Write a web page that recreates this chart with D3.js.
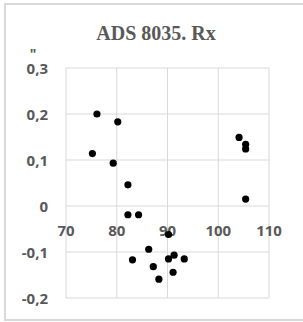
<!DOCTYPE html>
<html>
<head>
<meta charset="utf-8">
<script src="https://cdn.jsdelivr.net/npm/d3@7"></script>
<style>
  body { margin: 0; background: #fff; }
  svg { display: block; }
</style>
</head>
<body>
<svg id="chart" width="303" height="322"></svg>
<script>
/* ---------------------------------------------------
   Data
--------------------------------------------------- */

const title = "ADS 8035. Rx";
const xValues = [76.1, 80.2, 75.2, 79.3, 82.2, 104.1, 105.4, 105.4, 105.4,
                 82.2, 84.3, 90.2, 86.3, 83.1, 87.2, 88.3, 90.2, 91.3, 93.3, 91.1];
const yValues = [0.2, 0.183, 0.114, 0.093, 0.046, 0.149, 0.134, 0.124, 0.015,
                 -0.019, -0.019, -0.062, -0.094, -0.117, -0.132, -0.159, -0.115, -0.107, -0.115, -0.144];
const xTicks = [70, 80, 90, 100, 110];
const yTicks = [0.3, 0.2, 0.1, 0, -0.1, -0.2];
const yUnit = "\"";

/* ---------------------------------------------------
   Setup
--------------------------------------------------- */

const svg = d3.select("#chart");
const grey = "#595959";
const gridColour = "#d9d9d9";
const labelFont = "Open Sans, sans-serif";

const x = d3.scaleLinear().domain([70, 110]).range([66, 269]);
const y = d3.scaleLinear().domain([-0.2, 0.3]).range([298, 68]);

const fmt = d => d === 0 ? "0" : d3.format(".1f")(d).replace(".", ",").replace("−", "-");

// outer frame (right side runs off the picture)
svg.append("rect")
  .attr("x", 5).attr("y", 4)
  .attr("width", 310).attr("height", 316)
  .attr("fill", "#fff")
  .attr("stroke", gridColour)
  .attr("stroke-width", 2);

// title
svg.append("text")
  .attr("x", 156).attr("y", 40)
  .attr("text-anchor", "middle")
  .attr("font-family", "Liberation Serif, serif")
  .attr("font-weight", "bold")
  .attr("font-size", 20)
  .attr("fill", grey)
  .text(title);

// grid
svg.append("g")
  .selectAll("line")
  .data(xTicks)
  .join("line")
  .attr("x1", d => x(d)).attr("x2", d => x(d))
  .attr("y1", y(0.3)).attr("y2", y(-0.2))
  .attr("stroke", gridColour);

svg.append("g")
  .selectAll("line")
  .data(yTicks)
  .join("line")
  .attr("x1", x(70)).attr("x2", x(110))
  .attr("y1", d => y(d)).attr("y2", d => y(d))
  .attr("stroke", gridColour);

// y labels
svg.append("g")
  .selectAll("text")
  .data(yTicks)
  .join("text")
  .attr("x", 48)
  .attr("y", d => y(d) + 5.5)
  .attr("text-anchor", "end")
  .attr("font-family", labelFont)
  .attr("font-weight", "bold")
  .attr("font-size", 15)
  .attr("fill", grey)
  .text(fmt);

svg.append("text")
  .attr("x", 33).attr("y", 59)
  .attr("text-anchor", "middle")
  .attr("font-family", labelFont)
  .attr("font-weight", "bold")
  .attr("font-size", 14)
  .attr("fill", grey)
  .text(yUnit);

// x labels (axis crosses at 0)
svg.append("g")
  .selectAll("text")
  .data(xTicks)
  .join("text")
  .attr("x", d => x(d))
  .attr("y", y(0) + 30)
  .attr("text-anchor", "middle")
  .attr("font-family", labelFont)
  .attr("font-weight", "bold")
  .attr("font-size", 15)
  .attr("fill", grey)
  .text(d => d);

// points
svg.append("g")
  .selectAll("circle")
  .data(d3.zip(xValues, yValues))
  .join("circle")
  .attr("cx", d => x(d[0]))
  .attr("cy", d => y(d[1]))
  .attr("r", 3.6)
  .attr("fill", "#000");
</script>
</body>
</html>
